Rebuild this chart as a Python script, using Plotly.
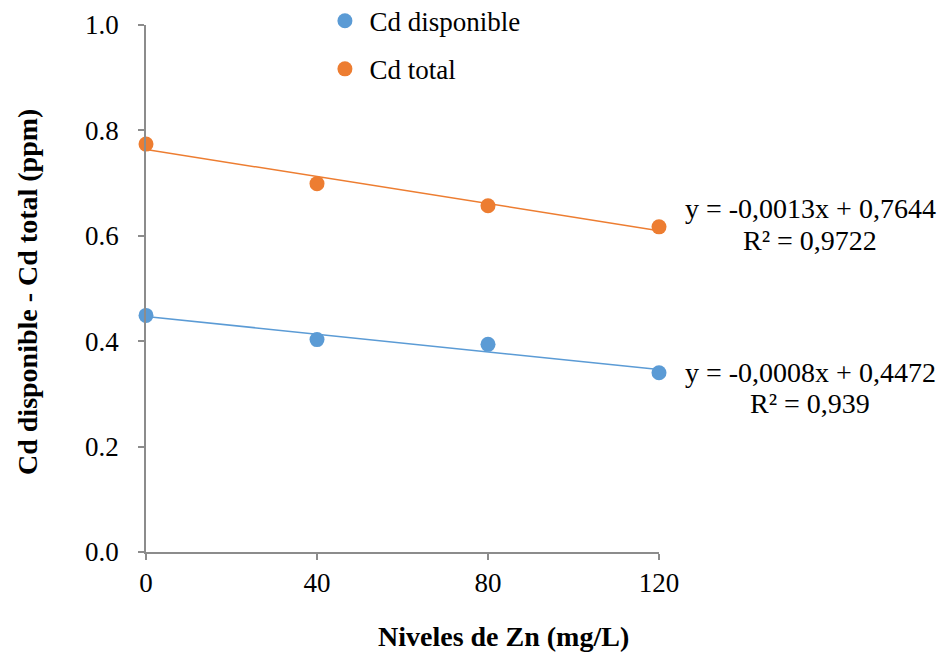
import numpy as np
import plotly.graph_objects as go

x_levels = [0, 40, 80, 120]
cd_disponible = [0.449, 0.403, 0.394, 0.340]
cd_total = [0.774, 0.699, 0.657, 0.617]
x_ticks = [0, 40, 80, 120]
y_ticks = [0.0, 0.2, 0.4, 0.6, 0.8, 1.0]

BLUE = "#5B9BD5"
ORANGE = "#ED7D31"
AXIS = "#8C8C8C"
FONT = "Liberation Serif"
FS = 27

fig = go.Figure()

for name, vals, col, grp in [("Cd disponible", cd_disponible, BLUE, "a"),
                             ("Cd total", cd_total, ORANGE, "b")]:
    m, b = np.polyfit(x_levels, vals, 1)
    xs = np.array([x_levels[0], x_levels[-1]], dtype=float)
    fig.add_trace(go.Scatter(x=xs, y=m * xs + b, mode="lines",
                             line=dict(color=col, width=1.5),
                             showlegend=False, hoverinfo="skip",
                             cliponaxis=False))
    fig.add_trace(go.Scatter(x=x_levels, y=vals, mode="markers", name=name,
                             marker=dict(color=col, size=15),
                             legendgroup=grp, cliponaxis=False))

H_PAPER = 653 - 0 - 101  # paper height in px


def py(ypx):
    return (552 - ypx) / H_PAPER


fig.update_layout(
    template="none",
    width=941, height=653,
    margin=dict(l=146, r=282, t=0, b=101, autoexpand=False),
    paper_bgcolor="white", plot_bgcolor="white",
    font=dict(family=FONT, size=FS, color="black"),
    showlegend=True,
    legend=dict(x=0.34, y=1.006, xanchor="left", yanchor="top",
                font=dict(family=FONT, size=FS), tracegroupgap=10,
                itemwidth=39, bgcolor="rgba(0,0,0,0)"),
    xaxis=dict(range=[0, 120], tickvals=x_ticks, ticktext=[str(v) for v in x_ticks],
               automargin=False,
               showgrid=False, zeroline=False, showline=True, linecolor=AXIS,
               linewidth=1.5, ticks="outside", ticklen=6, tickcolor=AXIS,
               tickwidth=1.5, ticklabelstandoff=0,
               tickfont=dict(family=FONT, size=FS)),
    yaxis=dict(range=[0, 1.0], domain=[0, 527 / H_PAPER], tickvals=y_ticks,
               ticktext=[f"{v:.1f}" for v in y_ticks], automargin=False,
               showgrid=False, zeroline=False, showline=True, linecolor=AXIS,
               linewidth=1.5, ticks="outside", ticklen=6, tickcolor=AXIS,
               tickwidth=1.5, ticklabelstandoff=14,
               tickfont=dict(family=FONT, size=FS)),
)

ann = [
    ("y = -0,0013x + 0,7644", 208),
    ("R² = 0,9722", 240),
    ("y = -0,0008x + 0,4472", 372),
    ("R² = 0,939", 404),
]
for txt, ypx in ann:
    fig.add_annotation(text=txt, xref="paper", yref="paper", x=(810 - 146) / 513, y=py(ypx),
                       xanchor="center", yanchor="middle", showarrow=False,
                       font=dict(family=FONT, size=28, color="black"))

fig.add_annotation(text="<b>Niveles de Zn (mg/L)</b>", xref="paper", yref="paper",
                   x=(503 - 146) / 513, y=py(636), xanchor="center",
                   yanchor="middle", showarrow=False,
                   font=dict(family=FONT, size=28, color="black"))
fig.add_annotation(text="<b>Cd disponible - Cd total (ppm)</b>", xref="paper", yref="paper",
                   x=(27 - 146) / 513, y=py(292), xanchor="center",
                   yanchor="middle", showarrow=False, textangle=-90,
                   font=dict(family=FONT, size=28, color="black"))

fig.write_html("out.html", config={"displayModeBar": False},
               post_script="document.body.style.margin='0';document.body.style.overflow='hidden';")
